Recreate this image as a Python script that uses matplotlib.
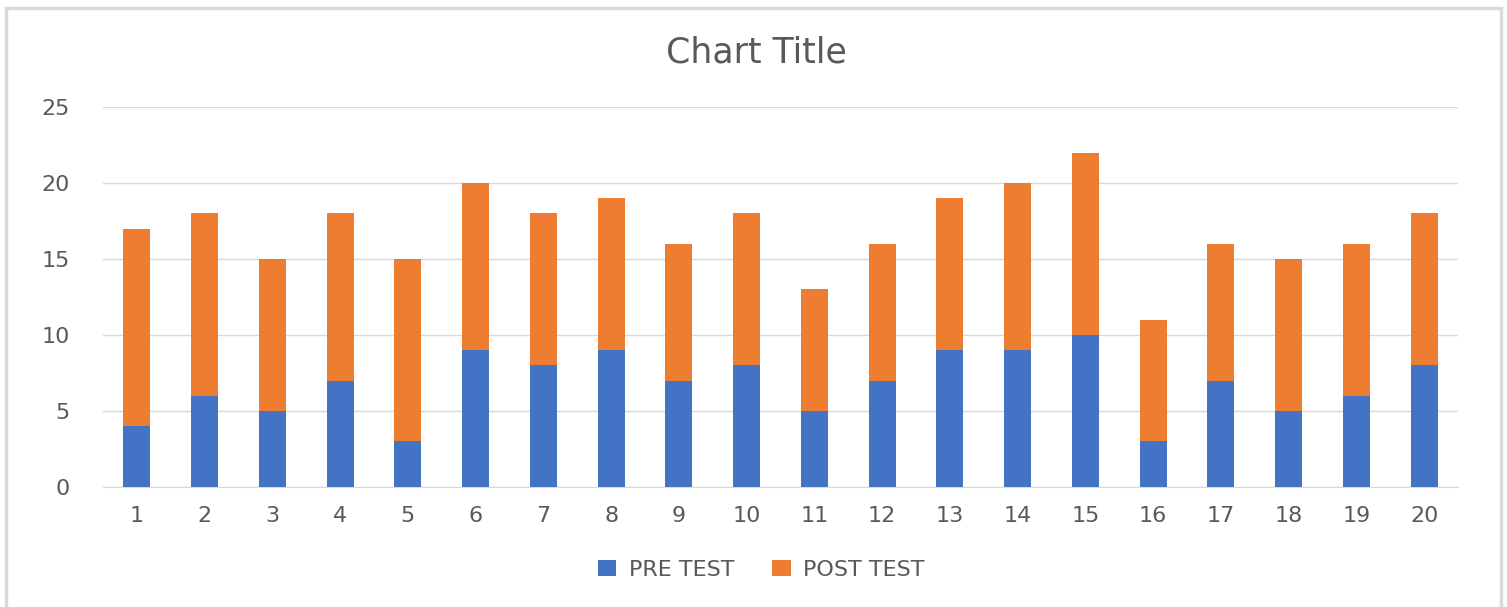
import matplotlib.pyplot as plt
from matplotlib.patches import Rectangle

categories = [str(i) for i in range(1, 21)]
pre_test = [4, 6, 5, 7, 3, 9, 8, 9, 7, 8, 5, 7, 9, 9, 10, 3, 7, 5, 6, 8]
post_test = [13, 12, 10, 11, 12, 11, 10, 10, 9, 10, 8, 9, 10, 11, 12, 8, 9, 10, 10, 10]

text_color = '#595959'
grid_color = '#d9d9d9'

fig = plt.figure(figsize=(15.07, 6.07), dpi=100)
ax = fig.add_axes([0.0683, 0.1977, 0.8992, 0.626])

x = range(1, len(categories) + 1)
ax.bar(x, pre_test, 0.4, color='#4472C4', label='PRE TEST', zorder=3)
ax.bar(x, post_test, 0.4, bottom=pre_test, color='#ED7D31', label='POST TEST', zorder=3)

ax.set_xlim(0.5, 20.5)
ax.set_ylim(0, 25)
ax.set_yticks(range(0, 26, 5))
ax.set_xticks(list(x), categories)
ax.grid(axis='y', color=grid_color, linewidth=1, zorder=0)
for side in ['top', 'right', 'left']:
    ax.spines[side].set_visible(False)
ax.spines['bottom'].set_color(grid_color)
ax.tick_params(length=0, labelsize=16, labelcolor=text_color)
ax.tick_params(axis='y', pad=24)
ax.tick_params(axis='x', pad=14)

fig.text(0.502, 0.913, 'Chart Title', ha='center', va='center', fontsize=25, color=text_color)

fig.legend(loc='center', bbox_to_anchor=(0.505, 0.061), ncol=2, frameon=False,
           fontsize=16, labelcolor=text_color, handlelength=0.85, handleheight=0.7,
           columnspacing=1.7, handletextpad=0.55)

# chart border
fig.patches.append(Rectangle((0.004, -0.01), 0.992, 0.996, transform=fig.transFigure,
                             fill=False, edgecolor='#d9d9d9', linewidth=2.5))

fig.savefig('out.png', dpi=100)
